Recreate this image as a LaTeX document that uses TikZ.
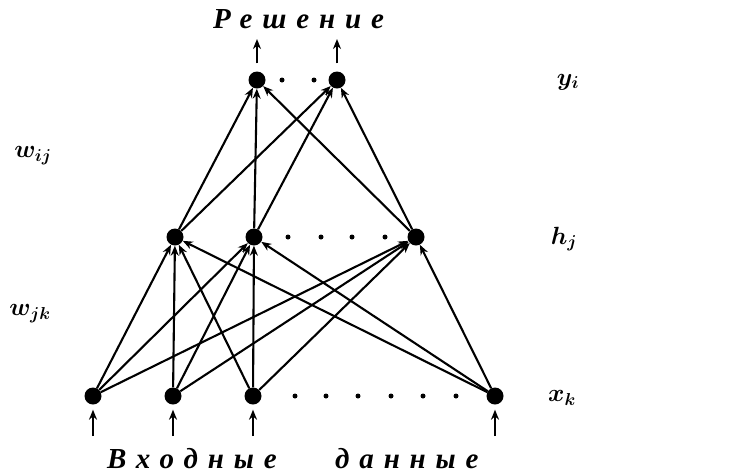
\documentclass[tikz,border=0pt]{standalone}
\usepackage{fontspec}
\usepackage{bm}
\usetikzlibrary{arrows.meta}
\newfontfamily\cyrfont[LetterSpace=34]{Liberation Serif}
\begin{document}
\begin{tikzpicture}[x=1pt,y=-1pt,
  neuron/.style={circle,fill=black,inner sep=0pt,minimum size=17pt},
  smalldot/.style={circle,fill=black,inner sep=0pt,minimum size=5pt},
  arr/.style={line width=2.1pt,-{Stealth[length=10pt,width=8pt]}},
  lbl/.style={font=\fontsize{27}{29}\selectfont},
  title/.style={font=\cyrfont\bfseries\itshape\fontsize{29}{31}\selectfont,anchor=base west,inner sep=0pt}]
\useasboundingbox (0,0) rectangle (742,475);
% output layer
\node[neuron] (o1) at (257,80) {};
\node[neuron] (o2) at (337,80) {};
\node[smalldot] (od1) at (282,80) {};
\node[smalldot] (od2) at (314,80) {};
% hidden layer
\node[neuron] (h1) at (175,237) {};
\node[neuron] (h2) at (254,237) {};
\node[neuron] (h3) at (416,237) {};
\foreach \x [count=\i] in {288,321,352,385} \node[smalldot] (hd\i) at (\x,237) {};
% input layer
\node[neuron] (x1) at (93,396) {};
\node[neuron] (x2) at (173,396) {};
\node[neuron] (x3) at (253,396) {};
\node[neuron] (x4) at (495,396) {};
\foreach \x [count=\i] in {295,326,358,391,423,456} \node[smalldot] (xd\i) at (\x,396) {};
% connections input -> hidden
\foreach \a in {x1,x2,x3,x4}
  \foreach \b in {h1,h2,h3}
    \draw[arr] (\a) -- (\b);
% connections hidden -> output
\foreach \a in {h1,h2,h3}
  \foreach \b in {o1,o2}
    \draw[arr] (\a) -- (\b);
% output arrows
\coordinate (o1t) at (257,39);
\coordinate (o2t) at (337,39);
\draw[arr,shorten <=8pt] (o1) -- (o1t);
\draw[arr,shorten <=8pt] (o2) -- (o2t);
% input arrows
\coordinate (x1b) at (93,436);
\coordinate (x2b) at (173,436);
\coordinate (x3b) at (253,436);
\coordinate (x4b) at (495,436);
\foreach \p in {x1,x2,x3,x4} \draw[arr,shorten >=5pt] (\p b) -- (\p);
% labels
\node[lbl] (wij) at (33,156) {$\bm{w_{ij}}$};
\node[lbl] (wjk) at (30,314) {$\bm{w_{jk}}$};
\node[lbl] (yi) at (568,82) {$\bm{y_{i}}$};
\node[lbl] (hj) at (564,239) {$\bm{h_{j}}$};
\node[lbl] (xk) at (562,398) {$\bm{x_{k}}$};
\node[title] (sol) at (213,28) {Решение};
\node[title] (inp) at (107,468) {Входные};
\node[title] (dat) at (335,468) {данные};
\end{tikzpicture}
\end{document}
